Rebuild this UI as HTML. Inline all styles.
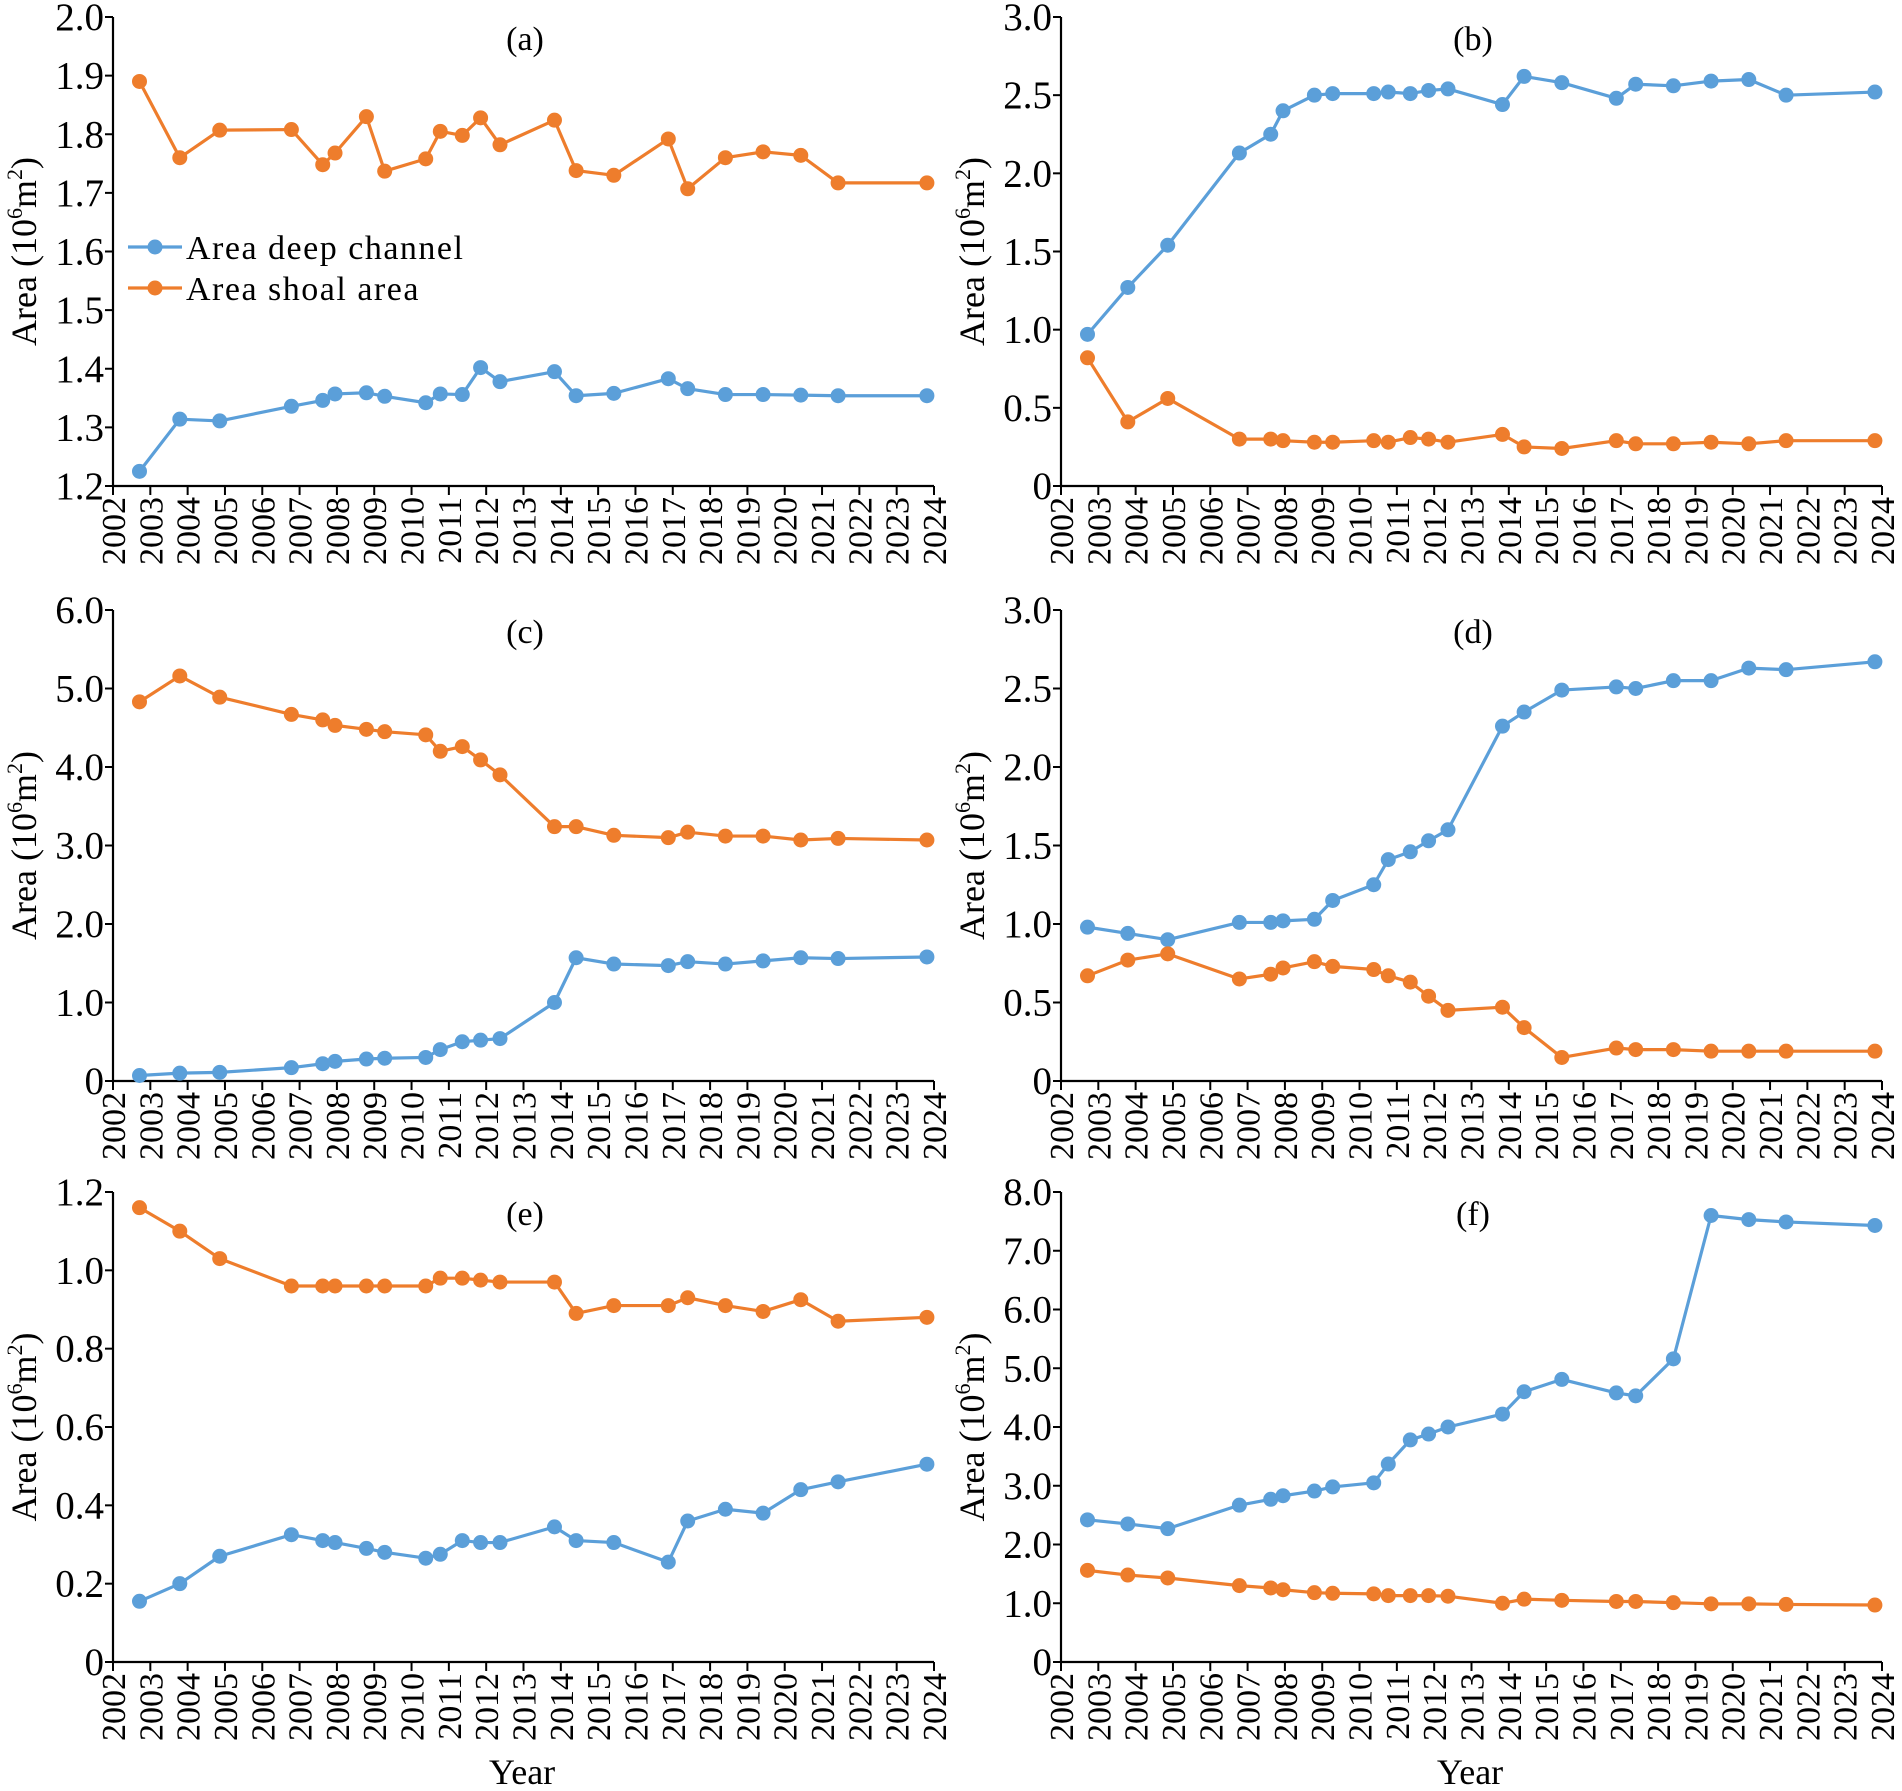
<!DOCTYPE html>
<html><head><meta charset="utf-8"><style>
html,body{margin:0;padding:0;background:#fff;}
svg{display:block;font-family:"Liberation Serif",serif;}
</style></head><body>
<svg id="fig" width="1902" height="1791" viewBox="0 0 1902 1791" xmlns="http://www.w3.org/2000/svg" font-family="Liberation Serif, serif"></svg>
<script>
const years=[2002.71,2003.79,2004.86,2006.78,2007.62,2007.95,2008.79,2009.28,2010.38,2010.77,2011.36,2011.85,2012.37,2013.83,2014.41,2015.42,2016.88,2017.40,2018.41,2019.42,2020.43,2021.43,2023.81];
const xTickLabels=["2002","2003","2004","2005","2006","2007","2008","2009","2010","2011","2012","2013","2014","2015","2016","2017","2018","2019","2020","2021","2022","2023","2024"];
const aDeep=[1.225,1.314,1.311,1.336,1.346,1.357,1.359,1.353,1.342,1.357,1.356,1.402,1.378,1.395,1.354,1.358,1.383,1.366,1.356,1.356,1.355,1.354,1.354];
const aShoal=[1.89,1.76,1.807,1.808,1.748,1.768,1.83,1.737,1.758,1.805,1.798,1.828,1.782,1.824,1.738,1.73,1.792,1.707,1.76,1.77,1.764,1.717,1.717];
const bDeep=[0.97,1.27,1.54,2.13,2.25,2.40,2.50,2.51,2.51,2.52,2.51,2.53,2.54,2.44,2.62,2.58,2.48,2.57,2.56,2.59,2.60,2.50,2.52];
const bShoal=[0.82,0.41,0.56,0.30,0.30,0.29,0.28,0.28,0.29,0.28,0.31,0.30,0.28,0.33,0.25,0.24,0.29,0.27,0.27,0.28,0.27,0.29,0.29];
const cDeep=[0.07,0.10,0.11,0.17,0.22,0.25,0.28,0.29,0.30,0.40,0.50,0.52,0.54,1.00,1.57,1.49,1.47,1.52,1.49,1.53,1.57,1.56,1.58];
const cShoal=[4.83,5.16,4.89,4.67,4.60,4.53,4.48,4.45,4.41,4.20,4.26,4.09,3.90,3.24,3.24,3.13,3.10,3.17,3.12,3.12,3.07,3.09,3.07];
const dDeep=[0.98,0.94,0.90,1.01,1.01,1.02,1.03,1.15,1.25,1.41,1.46,1.53,1.60,2.26,2.35,2.49,2.51,2.50,2.55,2.55,2.63,2.62,2.67];
const dShoal=[0.67,0.77,0.81,0.65,0.68,0.72,0.76,0.73,0.71,0.67,0.63,0.54,0.45,0.47,0.34,0.15,0.21,0.20,0.20,0.19,0.19,0.19,0.19];
const eDeep=[0.155,0.20,0.27,0.325,0.31,0.305,0.29,0.28,0.265,0.275,0.31,0.305,0.305,0.345,0.31,0.305,0.255,0.36,0.39,0.38,0.44,0.46,0.505];
const eShoal=[1.16,1.10,1.03,0.96,0.96,0.96,0.96,0.96,0.96,0.98,0.98,0.975,0.97,0.97,0.89,0.91,0.91,0.93,0.91,0.895,0.925,0.87,0.88];
const fDeep=[2.42,2.35,2.27,2.67,2.77,2.83,2.91,2.98,3.05,3.37,3.78,3.88,4.00,4.22,4.60,4.81,4.58,4.53,5.16,7.60,7.53,7.49,7.43];
const fShoal=[1.56,1.48,1.43,1.30,1.26,1.23,1.18,1.17,1.16,1.13,1.13,1.13,1.12,1.00,1.07,1.05,1.03,1.03,1.01,0.99,0.99,0.98,0.97];
const aTicks=["1.2","1.3","1.4","1.5","1.6","1.7","1.8","1.9","2.0"];
const bTicks=["0","0.5","1.0","1.5","2.0","2.5","3.0"];
const cTicks=["0","1.0","2.0","3.0","4.0","5.0","6.0"];
const dTicks=["0","0.5","1.0","1.5","2.0","2.5","3.0"];
const eTicks=["0","0.2","0.4","0.6","0.8","1.0","1.2"];
const fTicks=["0","1.0","2.0","3.0","4.0","5.0","6.0","7.0","8.0"];

const BLUE="#5b9fd9", ORANGE="#ee7d2c";
const svg=document.getElementById('fig');
const NS="http://www.w3.org/2000/svg";
function mk(tag,attrs,parent){const e=document.createElementNS(NS,tag);for(const k in attrs)e.setAttribute(k,attrs[k]);(parent||svg).appendChild(e);return e;}

const panels=[
 {id:'a',x0:113,y0:17,y1:486,ticks:aTicks,deep:aDeep,shoal:aShoal,year:false,legend:true},
 {id:'b',x0:1061,y0:17,y1:486,ticks:bTicks,deep:bDeep,shoal:bShoal},
 {id:'c',x0:113,y0:610,y1:1081,ticks:cTicks,deep:cDeep,shoal:cShoal},
 {id:'d',x0:1061,y0:610,y1:1081,ticks:dTicks,deep:dDeep,shoal:dShoal},
 {id:'e',x0:113,y0:1192,y1:1662,ticks:eTicks,deep:eDeep,shoal:eShoal,year:true},
 {id:'f',x0:1061,y0:1192,y1:1662,ticks:fTicks,deep:fDeep,shoal:fShoal,year:true}
];
const W=821;
panels.forEach(p=>{
 const g=mk('g',{});
 
 
 const ymin=parseFloat(p.ticks[0]), ymax=parseFloat(p.ticks[p.ticks.length-1]);
 const xs=v=>p.x0+(v-2002)/22*W;
 const ys=v=>p.y1-(v-ymin)/(ymax-ymin)*(p.y1-p.y0);
 const ax=mk('path',{d:`M${p.x0},${p.y0} V${p.y1} H${p.x0+W}`,fill:'none',stroke:'#000','stroke-width':2.2},g);
 
 
 p.ticks.forEach((t,i)=>{
  const y=ys(parseFloat(t));
  mk('line',{x1:p.x0-8,x2:p.x0,y1:y,y2:y,stroke:'#000','stroke-width':2},g);
  const tx=mk('text',{x:p.x0-9,y:y+13,'text-anchor':'end','font-size':39},g);
  tx.textContent=t;
  
  
 });
 xTickLabels.forEach((t,i)=>{
  const x=xs(parseFloat(t));
  mk('line',{x1:x,x2:x,y1:p.y1,y2:p.y1+9,stroke:'#000','stroke-width':2},g);
  const tx=mk('text',{x:0,y:0,'text-anchor':'end','font-size':34,transform:`translate(${x+12},${p.y1+11}) rotate(-90)`},g);
  tx.textContent=t;
  
  
 });
 const title=mk('text',{x:p.x0+412,y:p.y0+33,'text-anchor':'middle','font-size':34},g);
 title.textContent='('+p.id+')';
 
 
 const yl=mk('text',{x:0,y:0,'text-anchor':'middle','font-size':36,transform:`translate(${p.x0-77},${(p.y0+p.y1)/2}) rotate(-90)`},g);
 yl.innerHTML='Area (10<tspan dy="-14" font-size="22">6</tspan><tspan dy="14">m</tspan><tspan dy="-14" font-size="22">2</tspan><tspan dy="14">)</tspan>';
 
 
 if(p.year){
  const xl=mk('text',{x:p.x0+409,y:1784,'text-anchor':'middle','font-size':36},g);
  xl.textContent='Year';
  
  
 }
 [[p.deep,BLUE,'deep-channel'],[p.shoal,ORANGE,'shoal-area']].forEach(([vals,col,nm])=>{
  const pts=vals.map((v,i)=>xs(years[i])+','+ys(v)).join(' ');
  const pl=mk('polyline',{points:pts,fill:'none',stroke:col,'stroke-width':3.2,'stroke-linejoin':'round'},g);
  
  
  vals.forEach((v,i)=>{
   const c=mk('circle',{cx:xs(years[i]),cy:ys(v),r:7.5,fill:col},g);
   
   
  });
 });
 if(p.legend){
  [[BLUE,'Area  deep channel',247],[ORANGE,'Area  shoal area',288]].forEach(([col,lab,y])=>{
   const lg=mk('g',{},g);
   
   
   mk('line',{x1:128,x2:182,y1:y,y2:y,stroke:col,'stroke-width':3.2},lg);
   mk('circle',{cx:155,cy:y,r:7.5,fill:col},lg);
   const t=mk('text',{x:186,y:y+12,'font-size':34,'letter-spacing':'1.5'},lg);
   t.setAttribute('xml:space','preserve');
   t.textContent=lab;
  });
 }
});
</script>
</body></html>
